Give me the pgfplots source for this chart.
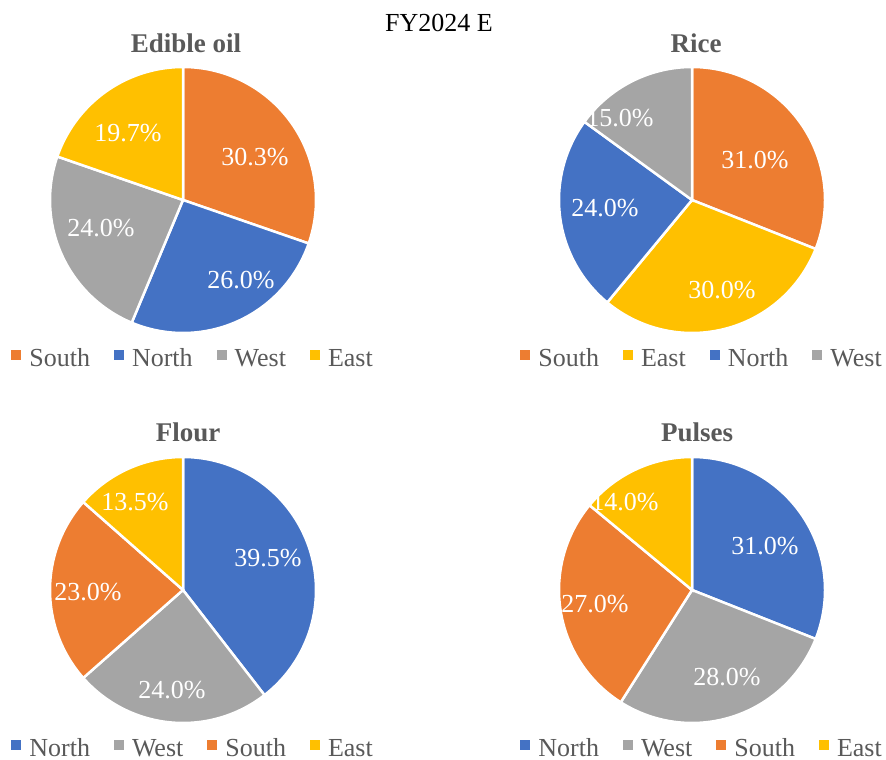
\documentclass[border=0pt]{standalone}
\usepackage{pgfplots}
\pgfplotsset{compat=1.18}
\usepackage{fontspec}
\setmainfont{Liberation Serif}

\definecolor{regSouth}{HTML}{ED7D31}
\definecolor{regNorth}{HTML}{4472C4}
\definecolor{regWest}{HTML}{A5A5A5}
\definecolor{regEast}{HTML}{FFC000}
\definecolor{txtgray}{HTML}{595959}

\newcommand\bigfont{\fontsize{26}{30}\selectfont}

% running total of the shares already drawn in the current pie
\gdef\pieacc{0}
% \slice{share}{colour}{region}{label x}{label y}: one wedge, clockwise from 12 o'clock
\newcommand\slice[5]{%
  \pgfmathsetmacro\pa{90-3.6*\pieacc}%
  \pgfmathsetmacro\pb{90-3.6*(\pieacc+#1)}%
  \pgfmathsetmacro\tmpacc{\pieacc+#1}%
  \xdef\pieacc{\tmpacc}%
  \edef\doslice{\noexpand\addplot[fill=#2, draw=white, line width=2.5pt,
      domain=\pb:\pa, samples=120, variable=\noexpand\t]
      ({cos(\noexpand\t)},{sin(\noexpand\t)}) -- (axis cs:0,0) -- cycle;}%
  \doslice
  \addlegendentry{#3}
  \node[text=white, font=\bigfont] at (axis cs:#4,#5)
    {\pgfmathprintnumber[fixed,fixed zerofill,precision=1,assume math mode=true]{#1}\%};
}

\pgfplotsset{
  pie/.style={
    hide axis, scale only axis, width=266pt, height=266pt,
    xmin=-1, xmax=1, ymin=-1, ymax=1, clip=false, anchor=center,
    legend style={draw=none, fill=none, legend columns=-1, inner sep=0pt,
      nodes={inner sep=1pt},
      at={(0.536,-0.055)}, anchor=north, font=\bigfont, text=txtgray,
      /tikz/every odd column/.append style={column sep=7pt},
      /tikz/every even column/.append style={column sep=23pt}},
    legend image code/.code={\path[##1, draw=none] (0pt,-1pt) rectangle (10pt,9pt);},
  },
}

\begin{document}
\begin{tikzpicture}[x=1pt, y=1pt]
\path[use as bounding box] (0,0) rectangle (886,760);

\node[anchor=base, font=\bigfont] at (439,728) {FY2024 E};

\node[anchor=base, font=\fontsize{27}{31}\selectfont\bfseries, text=txtgray] at (186,707) {Edible oil};
\node[anchor=base, font=\fontsize{27}{31}\selectfont\bfseries, text=txtgray] at (696,707) {Rice};
\node[anchor=base, font=\fontsize{27}{31}\selectfont\bfseries, text=txtgray] at (188,318) {Flour};
\node[anchor=base, font=\fontsize{27}{31}\selectfont\bfseries, text=txtgray] at (697,318) {Pulses};

% Edible oil
\begin{axis}[pie, at={(183pt,560pt)}]
\gdef\pieacc{0}
\slice{30.3}{regSouth}{South}{0.541}{0.323}
\slice{26.0}{regNorth}{North}{0.436}{-0.602}
\slice{24.0}{regWest}{West}{-0.617}{-0.211}
\slice{19.7}{regEast}{East}{-0.414}{0.504}
\end{axis}

% Rice
\begin{axis}[pie, at={(692pt,560pt)}]
\gdef\pieacc{0}
\slice{31.0}{regSouth}{South}{0.474}{0.301}
\slice{30.0}{regEast}{East}{0.226}{-0.677}
\slice{24.0}{regNorth}{North}{-0.654}{-0.060}
\slice{15.0}{regWest}{West}{-0.541}{0.617}
\end{axis}

% Flour
\begin{axis}[pie, at={(183pt,170pt)}]
\gdef\pieacc{0}
\slice{39.5}{regNorth}{North}{0.639}{0.241}
\slice{24.0}{regWest}{West}{-0.083}{-0.752}
\slice{23.0}{regSouth}{South}{-0.714}{-0.015}
\slice{13.5}{regEast}{East}{-0.361}{0.662}
\end{axis}

% Pulses
\begin{axis}[pie, at={(692pt,170pt)}]
\gdef\pieacc{0}
\slice{31.0}{regNorth}{North}{0.549}{0.331}
\slice{28.0}{regWest}{West}{0.263}{-0.654}
\slice{27.0}{regSouth}{South}{-0.729}{-0.105}
\slice{14.0}{regEast}{East}{-0.504}{0.662}
\end{axis}
\end{tikzpicture}
\end{document}
